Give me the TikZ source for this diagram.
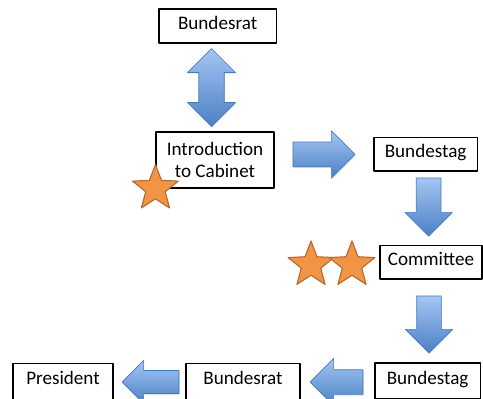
\documentclass[tikz,border=0pt]{standalone}
\usepackage{fontspec}
\setmainfont{Carlito}
\usepackage{tikz}
\usetikzlibrary{arrows}
\usetikzlibrary{positioning}
\usetikzlibrary{shadows}
\usetikzlibrary{shapes.arrows}
\usetikzlibrary{shapes.geometric}
\usetikzlibrary{calc}
\definecolor{arrowtop}{RGB}{163,198,243}
\definecolor{arrowbot}{RGB}{76,128,197}
\definecolor{arrowline}{RGB}{72,122,190}
\definecolor{starfill}{RGB}{242,148,70}
\definecolor{starline}{RGB}{182,106,45}

\begin{document}
\begin{tikzpicture}[line cap=round,line join=round,x=1.0cm,y=1.0cm,
  stage/.style={draw=black,line width=0.8pt,fill=white,inner sep=0pt,
    text height=0.68em,text depth=0.22em,font=\fontsize{13.6}{16}\selectfont},
  bluearrow/.style={single arrow,single arrow head extend=0.28cm,inner sep=0.3cm,anchor=tail,
    top color=arrowtop,bottom color=arrowbot,draw=arrowline,line width=0.5pt,
    drop shadow={opacity=0.25,shadow xshift=0.3pt,shadow yshift=-0.9pt}},
  stargold/.style={star,star points=5,star point ratio=2.35,minimum size=1.2cm,
    inner sep=0pt,fill=starfill,draw=starline,line width=0.8pt}]
\useasboundingbox (0,0) rectangle (12.075,-9.95);
\clip (0,0) rectangle (12.075,-9.95);
% boxes
\node[stage,minimum width=2.93cm,minimum height=0.85cm] (bra) at (5.44,-0.65) {Bundesrat};
\node[stage,minimum width=2.95cm,minimum height=1.4cm,align=center,text height=,text depth=] (intro) at (5.375,-4.0) {Introduction\\to Cabinet};
\node[stage,minimum width=2.58cm,minimum height=0.83cm] (bt1) at (10.64,-3.86) {Bundestag};
\node[stage,minimum width=2.55cm,minimum height=0.83cm] (com) at (10.775,-6.56) {Committee};
\node[stage,minimum width=2.63cm,minimum height=0.9cm] (bt2) at (10.69,-9.525) {Bundestag};
\node[stage,minimum width=2.85cm,minimum height=0.9cm] (bre) at (6.075,-9.54) {Bundesrat};
\node[stage,minimum width=2.5cm,minimum height=0.9cm] (pres) at (1.575,-9.54) {President};
% arrows
\node[bluearrow,double arrow,anchor=center,double arrow head extend=0.28cm,inner sep=0.31cm,minimum height=1.95cm,shape border rotate=90,xshift=-0.12cm] (a1) at ($(bra.south)!0.5!(intro.north)$) {};
\node[bluearrow,minimum height=1.55cm] (a2) at ($(intro.east)+(0.45,0.14)$) {};
\node[bluearrow,minimum height=1.45cm,shape border rotate=270] (a3) at ($(bt1.south)+(0.075,-0.15)$) {};
\node[bluearrow,minimum height=1.425cm,shape border rotate=270] (a4) at ($(com.south)+(-0.05,-0.4)$) {};
\node[bluearrow,minimum height=1.325cm,shape border rotate=180] (a5) at ($(bt2.west)+(-0.275,-0.025)$) {};
\node[bluearrow,minimum height=1.425cm,shape border rotate=180,single arrow head extend=0.25cm,inner sep=0.28cm] (a6) at ($(bre.west)+(-0.15,-0.01)$) {};
% stars
\node[stargold] (s1) at (intro.south west) {};
\node[stargold] (s2) at (7.775,-6.625) {};
\node[stargold] (s3) at (8.8,-6.625) {};
\end{tikzpicture}
\end{document}
